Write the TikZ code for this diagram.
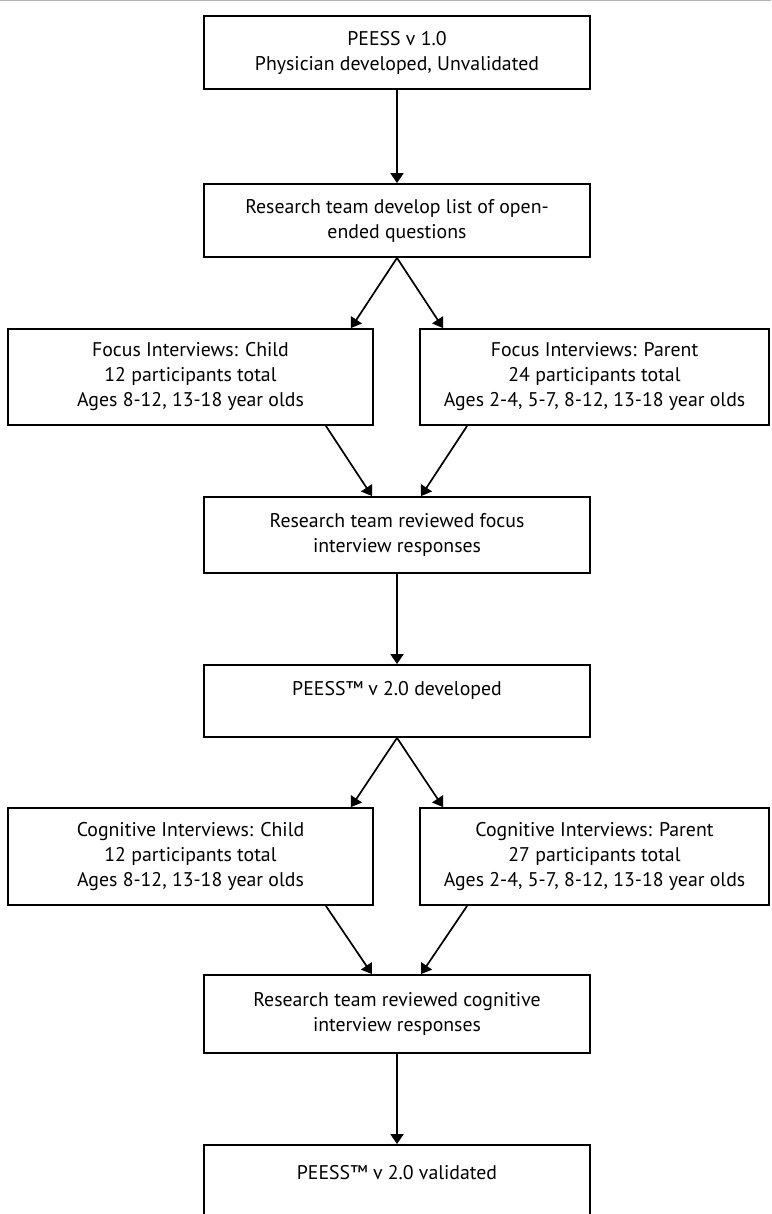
\documentclass[tikz,border=0pt]{standalone}
\usepackage{fontspec}
\setmainfont{PT Sans}
\usetikzlibrary{arrows.meta,calc}
\tikzset{
  box/.style={draw=black, line width=1.8pt, fill=white, align=center,
    font=\fontsize{19.8}{25}\selectfont, inner sep=0pt},
  mainbox/.style={box, minimum width=386pt, minimum height=73pt},
  sidebox/.style={box, minimum height=96pt},
  arr/.style={line width=1.7pt, -{Triangle[width=13pt,length=10pt]}}
}
\begin{document}
\begin{tikzpicture}[x=1pt,y=-1pt]
\useasboundingbox (0,0) rectangle (771,1214);
\clip (0,0) rectangle (771,1214);
\fill[white] (0,0) rectangle (771,1214);
\draw[gray!60, line width=1pt] (0,0.8) -- (771,0.8);

\node[mainbox] (b1) at (397,52.5) {PEESS v 1.0\\Physician developed, Unvalidated};
\node[mainbox] (b2) at (397,220.5) {Research team develop list of open-\\ended questions};
\node[sidebox, minimum width=365pt] (fc) at (190.5,377) {Focus Interviews: Child\\12 participants total\\Ages 8-12, 13-18 year olds};
\node[sidebox, minimum width=349pt] (fp) at (594.5,377) {Focus Interviews: Parent\\24 participants total\\Ages 2-4, 5-7, 8-12, 13-18 year olds};
\node[mainbox, minimum height=76pt] (rf) at (397,535) {Research team reviewed focus\\interview responses};
\node[mainbox, minimum height=72pt] (d2) at (397,701) {PEESS™ v 2.0 developed\\\mbox{}};
\node[sidebox, minimum width=365pt, minimum height=97pt] (cc) at (190.5,856.5) {Cognitive Interviews: Child\\12 participants total\\Ages 8-12, 13-18 year olds};
\node[sidebox, minimum width=349pt, minimum height=97pt] (cp) at (594.5,856.5) {Cognitive Interviews: Parent\\27 participants total\\Ages 2-4, 5-7, 8-12, 13-18 year olds};
\node[mainbox, minimum height=78pt] (rc) at (397,1014) {Research team reviewed cognitive\\interview responses};
\node[mainbox, minimum height=80pt] (v2) at (397,1185) {PEESS™ v 2.0 validated\\\mbox{}};

\draw[arr] (b1.south) -- (b2.north);
\draw[arr] (b2.south) -- ($(fc.north east)+(-23,0)$);
\draw[arr] (b2.south) -- ($(fp.north west)+(24,0)$);
\draw[arr] ($(fc.south east)+(-48,0)$) -- ($(rf.north)+(-25,0)$);
\draw[arr] ($(fp.south west)+(48,0)$) -- ($(rf.north)+(24,0)$);
\draw[arr] (rf.south) -- (d2.north);
\draw[arr] (d2.south) -- ($(cc.north east)+(-23,0)$);
\draw[arr] (d2.south) -- ($(cp.north west)+(24,0)$);
\draw[arr] ($(cc.south east)+(-48,0)$) -- ($(rc.north)+(-25,0)$);
\draw[arr] ($(cp.south west)+(48,0)$) -- ($(rc.north)+(24,0)$);
\draw[arr] (rc.south) -- (v2.north);
\end{tikzpicture}
\end{document}
